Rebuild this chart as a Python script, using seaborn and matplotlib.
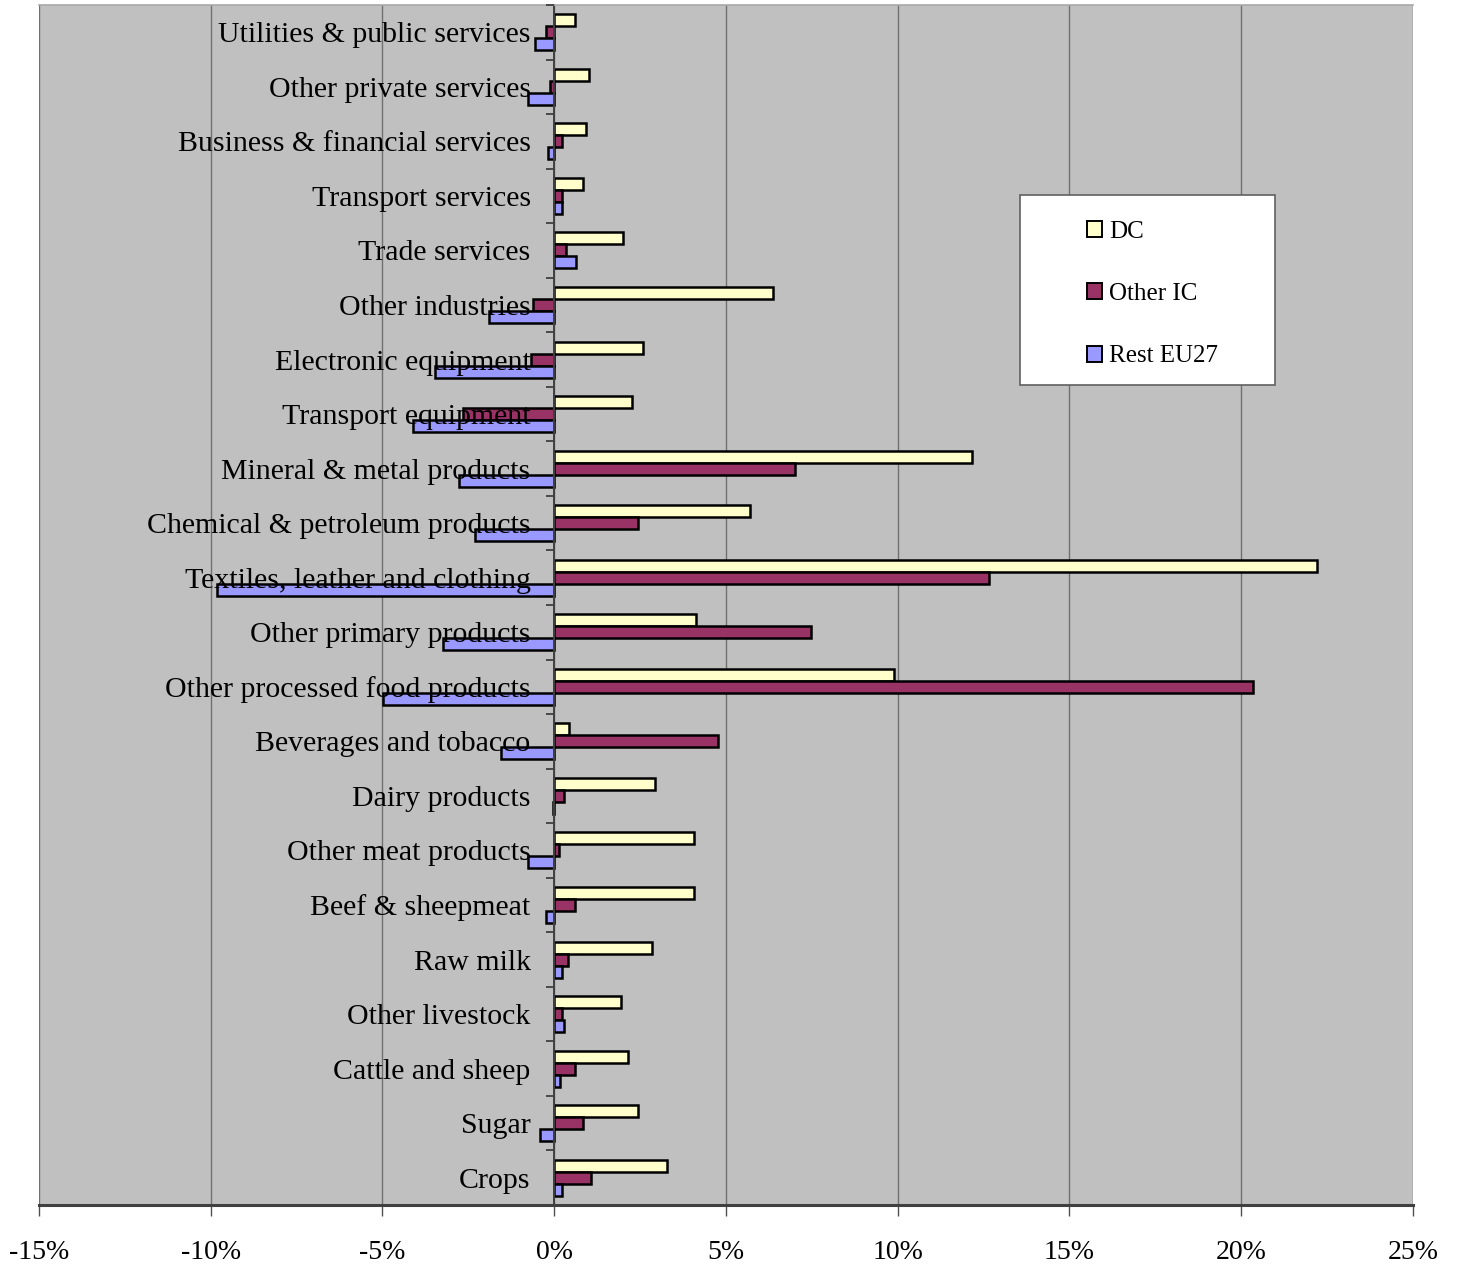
import matplotlib
matplotlib.use("Agg")
import matplotlib.pyplot as plt
from matplotlib.patches import Rectangle
from matplotlib.ticker import FixedLocator, FuncFormatter
import numpy as np
import pandas as pd
import seaborn as sns

# Sectors, listed from top of the chart to the bottom
sectors = [
    "Utilities & public services",
    "Other private services",
    "Business & financial services",
    "Transport services",
    "Trade services",
    "Other industries",
    "Electronic equipment",
    "Transport equipment",
    "Mineral & metal products",
    "Chemical & petroleum products",
    "Textiles, leather and clothing",
    "Other primary products",
    "Other processed food products",
    "Beverages and tobacco",
    "Dairy products",
    "Other meat products",
    "Beef & sheepmeat",
    "Raw milk",
    "Other livestock",
    "Cattle and sheep",
    "Sugar",
    "Crops",
]

regions = ["DC", "Other IC", "Rest EU27"]

# Percentage change per sector and trading partner
dc = [0.59, 1.00, 0.93, 0.84, 1.99, 6.36, 2.58, 2.27, 12.17, 5.71, 22.20,
      4.13, 9.90, 0.42, 2.92, 4.08, 4.08, 2.85, 1.93, 2.16, 2.45, 3.27]
other_ic = [-0.23, -0.12, 0.24, 0.22, 0.35, -0.61, -0.67, -2.66, 7.00, 2.45, 12.65,
            7.46, 20.33, 4.78, 0.29, 0.13, 0.59, 0.41, 0.24, 0.59, 0.84, 1.06]
rest_eu27 = [-0.57, -0.76, -0.17, 0.24, 0.64, -1.90, -3.48, -4.12, -2.78, -2.31, -9.83,
             -3.24, -4.99, -1.56, -0.05, -0.76, -0.23, 0.24, 0.29, 0.16, -0.41, 0.24]

x_ticks = [-15, -10, -5, 0, 5, 10, 15, 20, 25]

colors = {"DC": "#FFFFCC", "Other IC": "#993366", "Rest EU27": "#9999FF"}

df = pd.DataFrame({
    "sector": sectors * 3,
    "region": [r for r in regions for _ in sectors],
    "change": dc + other_ic + rest_eu27,
})

sns.set_style("white")
plt.rcParams["font.family"] = ["Liberation Serif", "DejaVu Serif"]
plt.rcParams["text.color"] = "black"
plt.rcParams["xtick.labelcolor"] = "black"
plt.rcParams["ytick.labelcolor"] = "black"

W, H = 1457, 1269
fig = plt.figure(figsize=(W / 100, H / 100), dpi=100)
ax = fig.add_axes([39 / W, 1 - 1205 / H, 1374 / W, 1200 / H])
ax.set_facecolor("#C0C0C0")

sns.barplot(
    data=df, y="sector", x="change", hue="region",
    order=sectors, hue_order=regions, palette=colors,
    orient="h", width=0.66, saturation=1,
    edgecolor="black", linewidth=1.8, ax=ax, legend=True,
)

ax.set_xlim(-15, 25)
ax.set_ylim(len(sectors) - 0.5, -0.5)
ax.set_xlabel("")
ax.set_ylabel("")

# Vertical gridlines behind bars; sector labels drawn over the bars
ax.xaxis.set_major_locator(FixedLocator(x_ticks))
ax.xaxis.set_major_formatter(FuncFormatter(lambda v, p: f"{v:.0f}%"))
ax.grid(axis="x", color="#707070", linewidth=1.0)
ax.grid(axis="y", visible=False)
ax.xaxis.set_zorder(0.5)
ax.yaxis.set_zorder(3)

ax.tick_params(axis="x", which="major", direction="out", length=8, width=1,
               color="#505050", pad=17, labelsize=20, bottom=True,
               labelcolor="black")

# Category axis sits on the zero line
ax.spines["left"].set_position(("data", 0))
ax.spines["left"].set_color("#404040")
ax.spines["left"].set_linewidth(1.4)
ax.spines["bottom"].set_color("#404040")
ax.spines["bottom"].set_linewidth(2.2)
ax.spines["top"].set_color("#A8A8A8")
ax.spines["top"].set_linewidth(1.2)
ax.spines["right"].set_visible(False)

ax.yaxis.set_minor_locator(FixedLocator(np.arange(len(sectors) + 1) - 0.5))
ax.tick_params(axis="y", which="major", length=0, pad=17, labelsize=21.5,
               left=True, labelcolor="black")
ax.tick_params(axis="y", which="minor", direction="out", length=6, width=1.3,
               color="#404040", left=True)

# Legend inside a white box
handles, labels = ax.get_legend_handles_labels()
ax.get_legend().remove()
box = Rectangle((1020 / W, 1 - 385 / H), 255 / W, 190 / H,
                transform=fig.transFigure, facecolor="white",
                edgecolor="#606060", linewidth=1.2, zorder=6)
ax.add_patch(box)
leg = ax.legend(handles, labels, loc="upper left",
                bbox_to_anchor=(1074 / W, 1 - 208 / H),
                bbox_transform=fig.transFigure, frameon=False,
                fontsize=18, handlelength=0.6, handleheight=0.6,
                handletextpad=0.3, labelspacing=1.62, borderpad=0)
leg.set_zorder(7)
for t in leg.get_texts():
    t.set_color("black")
for h in leg.legend_handles:
    h.set_edgecolor("black")
    h.set_linewidth(1.4)

fig.savefig("out.png", dpi=100)
